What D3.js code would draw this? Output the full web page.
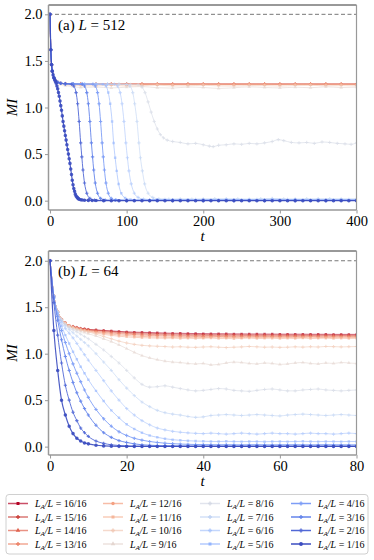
<!DOCTYPE html>
<meta charset="utf-8">
<script src="https://d3js.org/d3.v7.min.js"></script>
<style>
  body { margin: 0; background: #fff; }
  text { font-family: "Liberation Serif", "DejaVu Serif", serif; }
</style>
<div id="chart"></div>
<script>

// ---- data: panel (a), L = 512, pairs [t, MI] ----
var a1 = [[0,2.0],[1,1.62],[2,1.46],[3,1.39],[4,1.35],[5,1.32],[6,1.3],[7,1.28],[8,1.26],[9,1.23],[10,1.2],[11,1.16],[12,1.12],[13,1.07],[14,1.02],[15,0.97],[16,0.91],[17,0.85],[18,0.8],[19,0.75],[20,0.7],[21,0.65],[22,0.6],[23,0.55],[24,0.5],[25,0.45],[26,0.4],[27,0.34],[28,0.28],[29,0.22],[30,0.17],[31,0.13],[32,0.1],[33,0.07],[34,0.05],[35,0.04],[36,0.03],[37,0.022],[38,0.015],[40,0.01],[42,0.007],[45,0.005],[50,0.003],[55,0.002],[60,0.001],[70,0],[80,0],[90,0],[100,0],[110,0],[120,0],[130,0],[140,0],[150,0],[160,0],[170,0],[180,0],[190,0],[200,0],[210,0],[220,0],[230,0],[240,0],[250,0],[260,0],[270,0],[280,0],[290,0],[300,0],[310,0],[320,0],[330,0],[340,0],[350,0],[360,0],[370,0],[380,0],[390,0],[400,0]];
var a2 = [[0,2.0],[1,1.62],[2,1.46],[3,1.39],[5,1.32],[7,1.29],[10,1.27],[14,1.26],[20,1.255],[28,1.25],[31,1.23],[34,1.16],[36,1.04],[38,0.85],[40,0.62],[41.5,0.47],[43,0.33],[45,0.19],[48,0.08],[52,0.025],[58,0.006],[70,0.003],[100,0.002],[130,0.002],[160,0.002],[200,0.002],[240,0.002],[280,0.002],[320,0.002],[360,0.002],[400,0.002]];
var a3 = [[0,2.0],[1,1.62],[2,1.46],[3,1.39],[5,1.32],[7,1.29],[10,1.27],[14,1.26],[20,1.255],[30,1.253],[42,1.25],[45,1.23],[48,1.16],[50,1.04],[52,0.85],[54,0.62],[55.5,0.47],[57,0.33],[59,0.19],[62,0.08],[66,0.025],[72,0.007],[85,0.004],[110,0.003],[140,0.003],[180,0.003],[220,0.003],[260,0.003],[300,0.003],[340,0.003],[380,0.003],[400,0.003]];
var a4 = [[0,2.0],[1,1.62],[2,1.46],[3,1.39],[5,1.32],[7,1.29],[10,1.27],[14,1.26],[20,1.255],[30,1.253],[42,1.252],[56,1.25],[59,1.23],[62,1.16],[64,1.04],[66,0.85],[68,0.62],[69.5,0.47],[71,0.33],[73,0.19],[76,0.08],[80,0.025],[86,0.009],[100,0.005],[130,0.004],[160,0.005],[200,0.004],[240,0.005],[280,0.004],[320,0.005],[360,0.004],[400,0.005]];
var a5 = [[0,2.0],[1,1.62],[2,1.46],[3,1.39],[5,1.32],[7,1.29],[10,1.27],[14,1.26],[20,1.255],[30,1.253],[45,1.252],[60,1.251],[69,1.25],[73,1.23],[76,1.16],[78.5,1.04],[81,0.85],[83,0.62],[85,0.46],[87,0.32],[89.5,0.18],[93,0.08],[98,0.03],[105,0.013],[120,0.008],[140,0.01],[160,0.007],[180,0.009],[200,0.008],[230,0.01],[260,0.008],[290,0.009],[320,0.01],[350,0.008],[380,0.009],[400,0.008]];
var a6 = [[0,2.0],[1,1.62],[2,1.46],[3,1.39],[5,1.32],[7,1.29],[10,1.27],[14,1.26],[20,1.255],[30,1.253],[45,1.252],[60,1.251],[75,1.25],[84,1.25],[88,1.23],[91.5,1.16],[94,1.04],[96.5,0.85],[99,0.62],[101,0.46],[103,0.32],[106,0.18],[110,0.08],[115,0.035],[122,0.017],[135,0.012],[150,0.014],[170,0.011],[190,0.013],[210,0.012],[230,0.015],[250,0.012],[270,0.013],[290,0.016],[310,0.013],[330,0.012],[350,0.014],[370,0.012],[390,0.013],[400,0.012]];
var a7 = [[0,2.0],[1,1.62],[2,1.46],[3,1.39],[5,1.32],[7,1.29],[10,1.27],[14,1.26],[20,1.255],[30,1.253],[45,1.252],[60,1.251],[75,1.25],[90,1.25],[100,1.248],[104,1.23],[108,1.16],[110.5,1.04],[113.5,0.85],[116,0.62],[118,0.46],[120.5,0.32],[123.5,0.18],[128,0.08],[134,0.035],[142,0.02],[155,0.016],[170,0.02],[185,0.017],[200,0.019],[215,0.022],[230,0.018],[245,0.02],[260,0.017],[275,0.021],[290,0.024],[305,0.02],[320,0.018],[335,0.021],[350,0.019],[365,0.022],[380,0.02],[400,0.021]];
var a8 = [[0,2.0],[1,1.62],[2,1.46],[3,1.39],[5,1.32],[7,1.29],[10,1.27],[14,1.26],[20,1.255],[30,1.253],[45,1.252],[60,1.251],[75,1.25],[90,1.25],[105,1.248],[115,1.245],[120,1.22],[124,1.16],[128,1.06],[132,0.95],[136,0.85],[140,0.77],[144,0.71],[148,0.675],[153,0.65],[160,0.635],[170,0.625],[180,0.61],[190,0.615],[200,0.6],[208,0.585],[213,0.58],[220,0.595],[230,0.6],[240,0.61],[250,0.605],[260,0.615],[270,0.61],[280,0.62],[290,0.635],[298,0.655],[305,0.645],[315,0.625],[325,0.62],[335,0.625],[345,0.615],[355,0.63],[365,0.625],[375,0.615],[385,0.61],[393,0.605],[400,0.62]];
var a9 = [[0,2.0],[1,1.62],[2,1.46],[3,1.39],[5,1.32],[7,1.29],[10,1.265],[14,1.25],[20,1.235],[30,1.225],[40,1.215],[60,1.22],[80,1.21],[100,1.218],[120,1.225],[140,1.212],[160,1.208],[180,1.22],[200,1.215],[220,1.205],[240,1.212],[260,1.222],[280,1.215],[300,1.21],[320,1.218],[340,1.212],[360,1.222],[380,1.214],[400,1.218]];
var a10 = [[0,2.0],[1,1.62],[2,1.46],[3,1.39],[5,1.32],[7,1.29],[10,1.268],[14,1.255],[20,1.245],[30,1.238],[40,1.235],[60,1.232],[80,1.238],[100,1.23],[120,1.234],[140,1.24],[160,1.231],[180,1.233],[200,1.238],[220,1.232],[240,1.23],[260,1.236],[280,1.235],[300,1.23],[320,1.236],[340,1.239],[360,1.232],[380,1.235],[400,1.232]];
var a11 = [[0,2.0],[1,1.62],[2,1.46],[3,1.39],[5,1.32],[7,1.29],[10,1.27],[14,1.26],[20,1.252],[30,1.248],[40,1.246],[60,1.245],[80,1.247],[100,1.244],[120,1.246],[140,1.248],[160,1.244],[180,1.245],[200,1.247],[220,1.245],[240,1.244],[260,1.247],[280,1.246],[300,1.244],[320,1.247],[340,1.245],[360,1.244],[380,1.246],[400,1.245]];
var a12 = [[0,2.0],[1,1.62],[2,1.46],[3,1.39],[5,1.32],[7,1.29],[10,1.27],[14,1.26],[20,1.255],[30,1.252],[40,1.251],[60,1.25],[80,1.251],[100,1.25],[120,1.251],[140,1.252],[160,1.25],[180,1.251],[200,1.252],[220,1.25],[240,1.251],[260,1.252],[280,1.25],[300,1.251],[320,1.25],[340,1.252],[360,1.251],[380,1.25],[400,1.251]];
var a13 = [[0,2.0],[1,1.62],[2,1.46],[3,1.39],[5,1.32],[7,1.29],[10,1.27],[14,1.26],[20,1.255],[30,1.251],[40,1.25],[60,1.25],[80,1.25],[100,1.25],[120,1.25],[140,1.25],[160,1.25],[180,1.25],[200,1.25],[220,1.25],[240,1.25],[260,1.25],[280,1.25],[300,1.25],[320,1.25],[340,1.25],[360,1.25],[380,1.25],[400,1.25]];
var a14 = [[0,2.0],[1,1.62],[2,1.46],[3,1.39],[5,1.32],[7,1.29],[10,1.27],[14,1.26],[20,1.255],[30,1.251],[40,1.25],[60,1.25],[80,1.25],[100,1.25],[120,1.25],[140,1.25],[160,1.25],[180,1.25],[200,1.25],[220,1.25],[240,1.25],[260,1.25],[280,1.25],[300,1.25],[320,1.25],[340,1.25],[360,1.25],[380,1.25],[400,1.25]];
var a15 = [[0,2.0],[1,1.62],[2,1.46],[3,1.39],[5,1.32],[7,1.29],[10,1.27],[14,1.26],[20,1.255],[30,1.251],[40,1.25],[60,1.25],[80,1.25],[100,1.25],[120,1.25],[140,1.25],[160,1.25],[180,1.25],[200,1.25],[220,1.25],[240,1.25],[260,1.25],[280,1.25],[300,1.25],[320,1.25],[340,1.25],[360,1.25],[380,1.25],[400,1.25]];
var a16 = [[0,2.0],[1,1.62],[2,1.46],[3,1.39],[5,1.32],[7,1.29],[10,1.27],[14,1.26],[20,1.255],[30,1.251],[40,1.25],[60,1.25],[80,1.25],[100,1.25],[120,1.25],[140,1.25],[160,1.25],[180,1.25],[200,1.25],[220,1.25],[240,1.25],[260,1.25],[280,1.25],[300,1.25],[320,1.25],[340,1.25],[360,1.25],[380,1.25],[400,1.25]];

// ---- data: panel (b), L = 64, common time grid ----
var tB = [0,1,2,3,4,5,6,7,8,9,10,12,14,16,18,20,22,24,26,28,30,32,34,36,38,40,42,44,46,48,50,52,54,56,58,60,62,64,66,68,70,72,74,76,78,80];
var b1 = [2.0,1.25,0.82,0.5,0.34,0.22,0.14,0.09,0.06,0.04,0.03,0.015,0.008,0.005,0.003,0.002,0.002,0.002,0.002,0.002,0.002,0.002,0.002,0.002,0.002,0.002,0.002,0.002,0.002,0.002,0.002,0.002,0.002,0.002,0.002,0.002,0.002,0.002,0.002,0.002,0.002,0.002,0.002,0.002,0.002,0.002];
var b2 = [2.0,1.55,1.2,0.9,0.66,0.5,0.37,0.28,0.2,0.15,0.11,0.06,0.035,0.02,0.012,0.008,0.005,0.004,0.003,0.003,0.003,0.003,0.003,0.003,0.003,0.003,0.003,0.003,0.003,0.003,0.003,0.003,0.003,0.003,0.003,0.003,0.003,0.003,0.003,0.003,0.003,0.003,0.003,0.003,0.003,0.003];
var b3 = [2.0,1.6,1.36,1.15,0.97,0.82,0.69,0.58,0.49,0.41,0.34,0.23,0.15,0.1,0.065,0.045,0.03,0.02,0.015,0.012,0.01,0.008,0.007,0.006,0.006,0.005,0.005,0.005,0.005,0.005,0.005,0.005,0.005,0.005,0.005,0.005,0.005,0.005,0.005,0.005,0.005,0.005,0.005,0.005,0.005,0.005];
var b4 = [2.0,1.61,1.4,1.25,1.12,1.0,0.89,0.79,0.7,0.61,0.53,0.4,0.3,0.22,0.16,0.12,0.09,0.07,0.055,0.045,0.037,0.032,0.028,0.025,0.023,0.022,0.021,0.02,0.021,0.02,0.019,0.02,0.021,0.02,0.019,0.02,0.02,0.021,0.02,0.019,0.02,0.021,0.02,0.02,0.019,0.02];
var b5 = [2.0,1.62,1.43,1.3,1.2,1.11,1.02,0.94,0.86,0.79,0.72,0.6,0.49,0.39,0.31,0.24,0.19,0.15,0.12,0.1,0.085,0.075,0.068,0.063,0.06,0.058,0.056,0.055,0.057,0.055,0.054,0.056,0.055,0.053,0.055,0.056,0.054,0.055,0.057,0.055,0.054,0.056,0.055,0.054,0.056,0.055];
var b6 = [2.0,1.62,1.44,1.34,1.27,1.22,1.17,1.11,1.05,0.99,0.93,0.82,0.71,0.6,0.5,0.41,0.34,0.28,0.235,0.2,0.18,0.165,0.155,0.148,0.143,0.14,0.145,0.14,0.135,0.14,0.145,0.14,0.135,0.14,0.145,0.14,0.14,0.135,0.14,0.145,0.14,0.14,0.135,0.14,0.145,0.14];
var b7 = [2.0,1.62,1.45,1.36,1.3,1.26,1.225,1.19,1.155,1.12,1.085,1.0,0.91,0.82,0.72,0.63,0.55,0.48,0.43,0.39,0.365,0.35,0.34,0.325,0.315,0.32,0.335,0.34,0.345,0.34,0.335,0.34,0.345,0.34,0.335,0.33,0.34,0.345,0.35,0.345,0.34,0.335,0.34,0.345,0.34,0.335];
var b8 = [2.0,1.62,1.45,1.36,1.31,1.28,1.255,1.235,1.21,1.185,1.16,1.1,1.04,0.97,0.9,0.82,0.74,0.67,0.64,0.645,0.655,0.64,0.625,0.61,0.6,0.605,0.615,0.625,0.62,0.605,0.6,0.595,0.605,0.615,0.62,0.61,0.6,0.6,0.61,0.615,0.62,0.61,0.605,0.6,0.605,0.61];
var b9 = [2.0,1.62,1.45,1.37,1.32,1.29,1.27,1.255,1.24,1.228,1.215,1.19,1.16,1.13,1.095,1.055,1.015,0.98,0.955,0.935,0.92,0.91,0.905,0.895,0.89,0.895,0.88,0.885,0.9,0.91,0.905,0.895,0.89,0.9,0.895,0.885,0.89,0.9,0.905,0.895,0.89,0.9,0.895,0.905,0.9,0.895];
var b10 = [2.0,1.62,1.45,1.37,1.325,1.3,1.28,1.265,1.255,1.245,1.235,1.21,1.185,1.16,1.135,1.115,1.1,1.09,1.084,1.08,1.077,1.072,1.075,1.07,1.068,1.072,1.075,1.07,1.066,1.07,1.073,1.078,1.074,1.07,1.072,1.068,1.07,1.074,1.071,1.075,1.072,1.078,1.076,1.073,1.075,1.077];
var b11 = [2.0,1.62,1.45,1.37,1.33,1.3,1.283,1.27,1.258,1.248,1.238,1.222,1.208,1.197,1.188,1.181,1.176,1.172,1.17,1.168,1.166,1.168,1.164,1.167,1.163,1.166,1.169,1.163,1.165,1.161,1.166,1.168,1.163,1.165,1.167,1.162,1.166,1.164,1.168,1.163,1.165,1.167,1.162,1.166,1.164,1.165];
var b12 = [2.0,1.62,1.45,1.37,1.33,1.3,1.285,1.272,1.262,1.253,1.245,1.232,1.22,1.21,1.202,1.196,1.19,1.186,1.183,1.18,1.178,1.176,1.178,1.174,1.177,1.173,1.176,1.179,1.174,1.176,1.172,1.177,1.175,1.173,1.178,1.174,1.176,1.172,1.175,1.178,1.174,1.176,1.173,1.177,1.175,1.174];
var b13 = [2.0,1.62,1.45,1.37,1.33,1.3,1.285,1.275,1.265,1.257,1.25,1.24,1.23,1.222,1.215,1.21,1.205,1.2,1.197,1.194,1.192,1.19,1.188,1.187,1.186,1.185,1.187,1.184,1.186,1.183,1.185,1.187,1.184,1.186,1.183,1.185,1.184,1.186,1.183,1.185,1.184,1.182,1.185,1.183,1.185,1.184];
var b14 = [2.0,1.62,1.45,1.37,1.33,1.3,1.29,1.28,1.27,1.262,1.256,1.248,1.24,1.232,1.225,1.22,1.215,1.211,1.208,1.205,1.203,1.2,1.198,1.197,1.196,1.195,1.196,1.194,1.195,1.193,1.194,1.195,1.193,1.194,1.192,1.193,1.194,1.192,1.193,1.194,1.192,1.193,1.192,1.194,1.193,1.192];
var b15 = [2.0,1.62,1.45,1.37,1.33,1.3,1.29,1.28,1.27,1.265,1.26,1.253,1.247,1.241,1.235,1.229,1.225,1.222,1.219,1.216,1.213,1.211,1.21,1.208,1.207,1.206,1.205,1.205,1.204,1.204,1.203,1.203,1.202,1.202,1.202,1.201,1.201,1.2,1.2,1.2,1.2,1.2,1.199,1.199,1.199,1.199];
var b16 = [2.0,1.62,1.45,1.37,1.33,1.3,1.29,1.28,1.27,1.265,1.26,1.255,1.25,1.245,1.24,1.235,1.232,1.23,1.228,1.225,1.222,1.22,1.22,1.218,1.217,1.216,1.215,1.215,1.214,1.213,1.213,1.212,1.212,1.211,1.211,1.21,1.21,1.21,1.21,1.209,1.209,1.209,1.208,1.208,1.208,1.208];

// ---- labels / ticks ----
var fractionLabels = ["1/16","2/16","3/16","4/16","5/16","6/16","7/16","8/16","9/16","10/16","11/16","12/16","13/16","14/16","15/16","16/16"];
var yTicks = [0.0, 0.5, 1.0, 1.5, 2.0];
var xTicksA = [0, 100, 200, 300, 400];
var xTicksB = [0, 20, 40, 60, 80];
var legendOrder = [16,15,14,13,12,11,10,9,8,7,6,5,4,3,2,1];

var seriesA = [a1,a2,a3,a4,a5,a6,a7,a8,a9,a10,a11,a12,a13,a14,a15,a16];
var seriesB = [b1,b2,b3,b4,b5,b6,b7,b8,b9,b10,b11,b12,b13,b14,b15,b16].map(function(vals) {
  return tB.map(function(t, i) { return [t, vals[i]]; });
});

// coolwarm colour map
var cw = d3.piecewise(d3.interpolateLab, ["#3b4cc0","#6282ea","#8db0fe","#b8d0f9","#dddddd","#f5c4ac","#f49a7b","#de604d","#b40426"]);
function color(k) { return cw((k - 1) / 15); }
function alpha(k) { return k <= 4 ? 0.9 : 0.6; }

var markerType = {1: d3.symbolCircle, 2: d3.symbolCross, 3: d3.symbolCross, 4: d3.symbolCross, 5: d3.symbolSquare,
  6: d3.symbolCross, 7: d3.symbolCross, 8: d3.symbolCross, 9: d3.symbolTriangle, 10: d3.symbolCross,
  11: d3.symbolSquare, 12: d3.symbolCircle, 13: d3.symbolCross, 14: d3.symbolTriangle, 15: d3.symbolCross, 16: d3.symbolSquare};
function markerSize(k) { return k === 1 ? 10 : 6; }

var W = 374, H = 560;
var svg = d3.select("#chart").append("svg").attr("width", W).attr("height", H);

var left = 48.5, right = 356.5;

function drawPanel(cfg) {
  var x = d3.scaleLinear().domain(cfg.xDomain).range([left, right]);
  var y = d3.scaleLinear().domain(cfg.yDomain).range([cfg.bottom, cfg.top]);
  var g = svg.append("g");

  var clipId = "clip" + cfg.name;
  svg.append("clipPath").attr("id", clipId).append("rect")
    .attr("x", left).attr("y", cfg.top).attr("width", right - left).attr("height", cfg.bottom - cfg.top);

  // dashed reference at MI = 2
  g.append("line")
    .attr("x1", left).attr("x2", right).attr("y1", y(2)).attr("y2", y(2))
    .attr("stroke", "#777").attr("stroke-width", 1).attr("stroke-dasharray", "4,2.5");

  var line = d3.line().x(function(d) { return x(d[0]); }).y(function(d) { return y(d[1]); }).curve(d3.curveMonotoneX);
  var plot = g.append("g").attr("clip-path", "url(#" + clipId + ")");

  for (var k = 16; k >= 1; k--) {
    var data = cfg.series[k - 1];
    var c = color(k);
    plot.append("path").datum(data)
      .attr("d", line).attr("fill", "none").attr("stroke", c)
      .attr("stroke-width", k === 1 ? 1.2 : 1).attr("stroke-opacity", alpha(k));
    plot.append("g").selectAll("path").data(data).enter().append("path")
      .attr("transform", function(d) { return "translate(" + x(d[0]) + "," + y(d[1]) + ")"; })
      .attr("d", d3.symbol().type(markerType[k]).size(markerSize(k)))
      .attr("fill", c).attr("fill-opacity", alpha(k));
  }

  // axes
  var ax = g.append("g").attr("transform", "translate(0," + cfg.bottom + ")")
    .call(d3.axisBottom(x).tickValues(cfg.xTicks).tickFormat(d3.format("d")).tickSize(3.5).tickPadding(2.5));
  var ay = g.append("g").attr("transform", "translate(" + left + ",0)")
    .call(d3.axisLeft(y).tickValues(yTicks).tickFormat(d3.format(".1f")).tickSize(3.5).tickPadding(2.5));
  [ax, ay].forEach(function(a) {
    a.attr("font-family", null);
    a.select(".domain").remove();
    a.selectAll(".tick line").attr("stroke", "#999").attr("stroke-width", 1);
    a.selectAll(".tick text").attr("fill", "#000").style("font-size", "14.5px")
      .style("font-family", '"Liberation Serif", serif');
  });

  // spines
  g.append("line").attr("x1", left).attr("x2", right).attr("y1", cfg.top).attr("y2", cfg.top)
    .attr("stroke", "#333").attr("stroke-width", 1);
  g.append("line").attr("x1", right).attr("x2", right).attr("y1", cfg.top).attr("y2", cfg.bottom)
    .attr("stroke", "#999").attr("stroke-width", 1.2);
  g.append("line").attr("x1", left).attr("x2", left).attr("y1", cfg.top).attr("y2", cfg.bottom)
    .attr("stroke", "#999").attr("stroke-width", 1.5);
  g.append("line").attr("x1", left).attr("x2", right).attr("y1", cfg.bottom).attr("y2", cfg.bottom)
    .attr("stroke", "#999").attr("stroke-width", 1.5);

  // axis labels
  g.append("text").attr("x", (left + right) / 2).attr("y", cfg.bottom + 31)
    .attr("text-anchor", "middle").style("font-size", "15px").style("font-style", "italic").text("t");
  g.append("text").attr("transform", "translate(17," + ((cfg.top + cfg.bottom) / 2) + ") rotate(-90)")
    .attr("text-anchor", "middle").style("font-size", "15px").style("font-style", "italic").text("MI");

  // panel label
  var lab = g.append("text").attr("x", 58).attr("y", cfg.top + 25).style("font-size", "15px");
  lab.append("tspan").text("(" + cfg.name + ") ");
  lab.append("tspan").style("font-style", "italic").text("L");
  lab.append("tspan").text(" = " + cfg.size);
}

drawPanel({name: "a", size: 512, top: 5, bottom: 210, xDomain: [-2, 400], yDomain: [-0.1, 2.1], xTicks: xTicksA, series: seriesA});
drawPanel({name: "b", size: 64, top: 251, bottom: 455, xDomain: [-0.4, 80], yDomain: [-0.09, 2.105], xTicks: xTicksB, series: seriesB});

// legend
var leg = svg.append("g");
leg.append("rect").attr("x", 6).attr("y", 494.5).attr("width", 362).attr("height", 59.5)
  .attr("rx", 3).attr("fill", "#fff").attr("stroke", "#d0d0d0").attr("stroke-width", 1);
var colText = [35, 130, 227, 318];
legendOrder.forEach(function(k, i) {
  var col = Math.floor(i / 4), row = i % 4;
  var ty = 503.5 + row * 13.5, tx = colText[col];
  var c = color(k);
  leg.append("line").attr("x1", tx - 27).attr("x2", tx - 7).attr("y1", ty).attr("y2", ty)
    .attr("stroke", c).attr("stroke-width", 1.5).attr("stroke-opacity", alpha(k) + 0.1);
  leg.append("path").attr("transform", "translate(" + (tx - 17) + "," + ty + ")")
    .attr("d", d3.symbol().type(markerType[k]).size(k === 1 ? 12 : 9)).attr("fill", c);
  var t = leg.append("text").attr("x", tx).attr("y", ty).attr("dy", "0.35em").style("font-size", "10px");
  t.append("tspan").style("font-style", "italic").text("L");
  t.append("tspan").style("font-style", "italic").style("font-size", "7px").attr("dy", "2").text("A");
  t.append("tspan").style("font-style", "italic").attr("dy", "-2").text("/L");
  t.append("tspan").text(" = " + fractionLabels[k - 1]);
});

</script>
